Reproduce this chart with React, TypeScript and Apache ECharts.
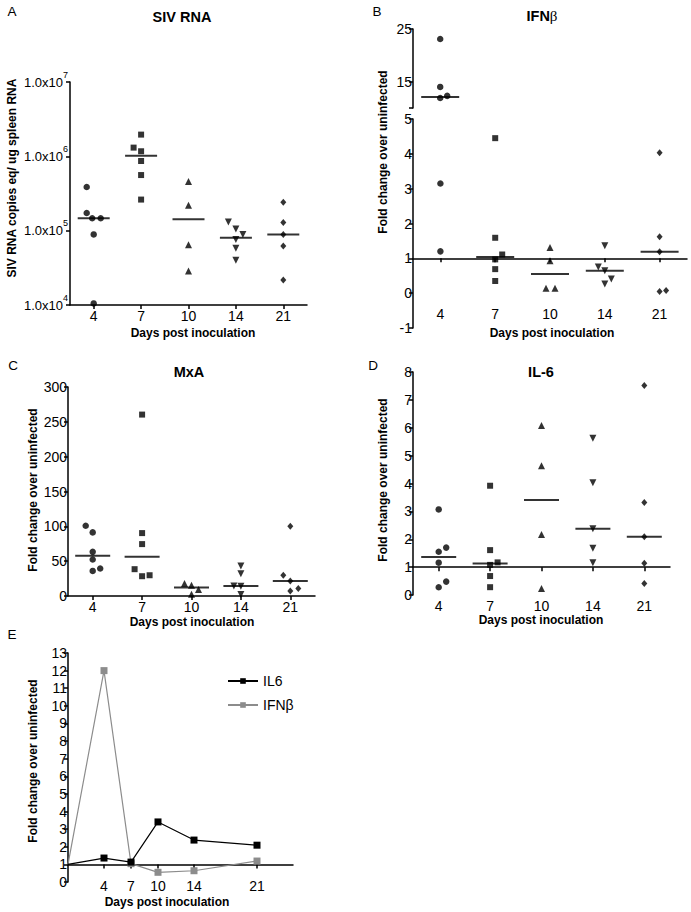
import React, { useEffect, useRef } from 'react';
import * as echarts from 'echarts';

const FONT = 'Arial, "Liberation Sans", Helvetica, sans-serif';

// ---------- data ----------
const DAYS = ['4', '7', '10', '14', '21'];

// Panel A: SIV RNA (copies eq / ug spleen RNA)
const sivD4 = [3.87e5, 1.73e5, 1.47e5, 1.47e5, 8.9e4, 1.05e4];
const sivD7 = [1.96e6, 1.31e6, 1.17e6, 8.65e5, 5.6e5, 2.62e5];
const sivD10 = [4.6e5, 2.2e5, 6.45e4, 2.86e4];
const sivD14 = [1.31e5, 1.05e5, 8.9e4, 7.6e4, 5.8e4, 4.0e4];
const sivD21 = [2.42e5, 1.29e5, 8.9e4, 6.2e4, 2.17e4];
const sivMedian = [1.47e5, 1.02e6, 1.42e5, 8.0e4, 8.9e4];

// Panel B: IFN-beta fold change
const ifnD4 = [23.1, 14.0, 12.3, 11.9, 3.15, 1.2];
const ifnD7 = [4.45, 1.59, 1.11, 0.97, 0.69, 0.35];
const ifnD10 = [1.31, 0.93, 0.14, 0.14];
const ifnD14 = [1.36, 0.75, 0.64, 0.41, 0.26];
const ifnD21 = [4.03, 1.62, 1.19, 0.05, 0.08];
const ifnMedian = [12.1, 1.04, 0.55, 0.64, 1.19];

// Panel C: MxA fold change
const mxaD4 = [100.8, 91.3, 63.4, 52.4, 39.5, 36.0];
const mxaD7 = [260.4, 90.3, 74.5, 38.5, 28.4, 29.8];
const mxaD10 = [17.8, 15.4, 9.2, 2.4];
const mxaD14 = [43.2, 32.1, 14.5, 14.0, 2.0];
const mxaD21 = [100, 29.8, 21.6, 10.7, 7.2];
const mxaMedian = [57.9, 56.5, 12.3, 14.5, 21.6];

// Panel D: IL-6 fold change
const il6D4 = [3.07, 1.7, 1.55, 1.16, 0.48, 0.28];
const il6D7 = [3.92, 1.61, 1.17, 1.08, 0.68, 0.28];
const il6D10 = [6.08, 4.64, 2.17, 0.23];
const il6D14 = [5.62, 4.03, 2.38, 1.68, 1.16];
const il6D21 = [7.52, 3.32, 2.09, 1.14, 0.41];
const il6Median = [1.36, 1.13, 3.41, 2.38, 2.09];

// Panel E: median kinetics
const kineticDays = [0, 4, 7, 10, 14, 21];
const il6Kinetics = [1, 1.36, 1.13, 3.41, 2.38, 2.09];
const ifnKinetics = [1, 12, 1.04, 0.55, 0.64, 1.19];
const eTickDays = [4, 7, 10, 14, 21];

// ---------- styling (horizontal jitter of overlapping dots, px) ----------
const sivJitter = [[-7, -7, -1.5, 7, 0, 0], [0, -7.5, 0, 0, 0, 0], [0, 0, 0, 0], [-7.5, 0, 7, 0, 0, 0], [0, 0, 0, 0, 0]];
const ifnJitter = [[0, 0, 7, 0, 0, 0], [0, 0, 7, 0, 0, 0], [0, 0, -4, 5], [0, -6.5, 0, 6.5, 0], [0, 0, 0, 0, 6.5]];
const mxaJitter = [[-7, 0, 0, 0, 7.5, 0], [0, 0, 0, -7.5, 0, 7.5], [-7, 0, 7, 0], [0, 0, -7, 0, 0], [0, -7, 0, 8, 0]];
const il6Jitter = [[0, 7.5, 0, 0, 7.5, 0], [0, 0, 7.5, 0, 0, 0], [0, 0, 0, 0], [0, 0, 0, 0, 0], [0, 0, 0, 0, 0]];

const SYMBOLS = [
  { symbol: 'circle', size: 6.5, rotate: 0 },
  { symbol: 'rect', size: 6, rotate: 0 },
  { symbol: 'triangle', size: 7, rotate: 0 },
  { symbol: 'triangle', size: 7, rotate: 180 },
  { symbol: 'diamond', size: [6, 7], rotate: 0 },
];

const AXIS_LINE = { color: '#000', width: 1.5 };
const TICK_FS = 14;

type Place = (v: number) => { g: number; v: number };

function dotPanel(groups: number[][], jitters: number[][], medians: number[], medianW: number, place: Place) {
  const out: any[] = [];
  groups.forEach((vals, ci) => {
    const sym = SYMBOLS[ci];
    const byAxis: Record<number, any[]> = {};
    vals.forEach((val, k) => {
      const p = place(val);
      (byAxis[p.g] = byAxis[p.g] || []).push({ value: [ci, p.v], symbolOffset: [jitters[ci][k] || 0, 0] });
    });
    Object.keys(byAxis).forEach((gk) => {
      const g = Number(gk);
      out.push({
        type: 'scatter', xAxisIndex: g, yAxisIndex: g, silent: true,
        symbol: sym.symbol, symbolSize: sym.size, symbolRotate: sym.rotate,
        itemStyle: { color: '#000' }, z: 3, data: byAxis[g],
      });
    });
  });
  medians.forEach((m, ci) => {
    const p = place(m);
    out.push({
      type: 'scatter', xAxisIndex: p.g, yAxisIndex: p.g, silent: true,
      symbol: 'rect', symbolSize: [medianW, 2], itemStyle: { color: '#000' }, z: 2,
      data: [[ci, p.v]],
    });
  });
  return out;
}

// offset < 0 lifts the axis line from the grid bottom up to the baseline (value 1)
function catAxis(gridIndex: number, margin: number, offset = 0, show = true) {
  return {
    type: 'category', gridIndex, data: DAYS, boundaryGap: true, show, offset, position: 'bottom',
    axisLine: { show: true, onZero: false, lineStyle: AXIS_LINE },
    axisTick: { show: true, alignWithLabel: true, length: 4, lineStyle: AXIS_LINE },
    axisLabel: { margin, color: '#000', fontSize: TICK_FS, fontFamily: FONT },
    splitLine: { show: false },
  };
}

function valAxis(gridIndex: number, min: number, max: number, interval: number, extra: any = {}) {
  return {
    type: 'value', gridIndex, min, max, interval,
    axisLine: { show: true, onZero: false, lineStyle: AXIS_LINE },
    axisTick: { show: true, length: 4, lineStyle: AXIS_LINE, ...(extra.axisTick || {}) },
    axisLabel: { margin: 1, color: '#000', fontSize: TICK_FS, fontFamily: FONT, ...(extra.axisLabel || {}) },
    splitLine: { show: false },
  };
}

function txt(text: string, x: number, y: number, font: string, rotation = 0, rich?: any) {
  return {
    type: 'text', x, y, rotation, silent: true,
    style: {
      text, font, fill: '#000', rich,
      textAlign: 'center', textVerticalAlign: 'middle', align: 'center', verticalAlign: 'middle',
    },
  };
}

function buildOption() {
  const placeA: Place = (v) => ({ g: 0, v });
  const placeB: Place = (v) => (v > 5 ? { g: 1, v } : { g: 2, v });
  const placeC: Place = (v) => ({ g: 3, v });
  const placeD: Place = (v) => ({ g: 4, v });

  const grid = [
    { left: 70, top: 82, width: 237, height: 223 },
    { left: 413, top: 29, width: 272, height: 79 },
    { left: 413, top: 119, width: 274, height: 209 },
    { left: 68, top: 387, width: 247, height: 209 },
    { left: 413, top: 372, width: 257, height: 223 },
    { left: 68, top: 653, width: 225, height: 229 },
  ].map((g) => ({ ...g, outerBoundsMode: 'none', containLabel: false }));

  const xAxis: any[] = [
    catAxis(0, 4),
    catAxis(1, 4, 0, false),
    catAxis(2, 49, (-209 / 6) * 2),
    catAxis(3, 4),
    catAxis(4, 32, -223 / 8),
    {
      type: 'value', gridIndex: 5, min: 0, max: 25, position: 'bottom', offset: -229 / 13,
      axisLine: { show: true, onZero: false, lineStyle: AXIS_LINE },
      axisTick: { show: true, length: 4, lineStyle: AXIS_LINE, customValues: eTickDays },
      axisLabel: { margin: 15, color: '#000', fontSize: TICK_FS, fontFamily: FONT, customValues: eTickDays },
      splitLine: { show: false },
    },
  ];

  const yAxis: any[] = [
    {
      type: 'log', gridIndex: 0, logBase: 10, min: 1e4, max: 1e7,
      axisLine: { show: true, onZero: false, lineStyle: AXIS_LINE },
      axisTick: { show: true, length: 4, lineStyle: AXIS_LINE },
      minorTick: { show: false },
      axisLabel: {
        margin: 2, color: '#000', fontFamily: FONT,
        formatter: (v: number) => `{b|1.0x10}{s|${Math.round(Math.log10(v))}}`,
        rich: {
          b: { fontSize: 13, fontFamily: FONT, color: '#000', lineHeight: 24 },
          s: { fontSize: 9, fontFamily: FONT, color: '#000', lineHeight: 9, verticalAlign: 'top' },
        },
      },
      splitLine: { show: false },
    },
    valAxis(1, 10, 25, 5, { axisLabel: { customValues: [15, 25] }, axisTick: { customValues: [10, 15, 25] } }),
    valAxis(2, -1, 5, 1),
    valAxis(3, 0, 300, 50),
    valAxis(4, 0, 8, 1),
    valAxis(5, 0, 13, 1),
  ];

  const series: any[] = [
    ...dotPanel([sivD4, sivD7, sivD10, sivD14, sivD21], sivJitter, sivMedian, 32, placeA),
    ...dotPanel([ifnD4, ifnD7, ifnD10, ifnD14, ifnD21], ifnJitter, ifnMedian, 38, placeB),
    ...dotPanel([mxaD4, mxaD7, mxaD10, mxaD14, mxaD21], mxaJitter, mxaMedian, 35, placeC),
    ...dotPanel([il6D4, il6D7, il6D10, il6D14, il6D21], il6Jitter, il6Median, 35, placeD),
  ];

  const kin = (vals: number[]) =>
    kineticDays.map((d, i) => (d === 0 ? { value: [d, vals[i]], symbol: 'none' } : { value: [d, vals[i]] }));

  series.push(
    {
      name: 'IL6', type: 'line', xAxisIndex: 5, yAxisIndex: 5, silent: true,
      symbol: 'rect', symbolSize: 7, showSymbol: true,
      lineStyle: { color: '#000', width: 1.2 }, itemStyle: { color: '#000' }, z: 4,
      data: kin(il6Kinetics),
    },
    {
      name: 'IFNβ', type: 'line', xAxisIndex: 5, yAxisIndex: 5, silent: true,
      symbol: 'rect', symbolSize: 7, showSymbol: true,
      lineStyle: { color: '#8c8c8c', width: 1.2 }, itemStyle: { color: '#8c8c8c' }, z: 3,
      data: kin(ifnKinetics),
    },
  );

  const bold12 = `bold 12px ${FONT}`;
  const bold14 = `bold 14.5px ${FONT}`;
  const letter = `13.5px ${FONT}`;

  const graphic = [
    txt('A', 12, 11, letter),
    txt('B', 377, 11, letter),
    txt('C', 13, 365, letter),
    txt('D', 373, 365, letter),
    txt('E', 12, 634, letter),
    txt('SIV RNA', 182, 17, bold14),
    txt('{a|IFN}{b|β}', 542, 16, bold14, 0, {
      a: { font: bold14, fill: '#000', color: '#000' },
      b: { font: `15px "Liberation Serif", "Times New Roman", serif`, fill: '#000', color: '#000' },
    }),
    txt('MxA', 189, 372, bold14),
    txt('IL-6', 541, 372, bold14),
    txt('SIV RNA copies eq/ ug spleen RNA', 12, 178, bold12, Math.PI / 2),
    txt('Fold change over uninfected', 383, 152, bold12, Math.PI / 2),
    txt('Fold change over uninfected', 33, 490, bold12, Math.PI / 2),
    txt('Fold change over uninfected', 383, 480, bold12, Math.PI / 2),
    txt('Fold change over uninfected', 33, 761, bold12, Math.PI / 2),
    txt('Days post inoculation', 193, 333, bold12),
    txt('Days post inoculation', 552, 333, bold12),
    txt('Days post inoculation', 192, 622, bold12),
    txt('Days post inoculation', 541, 620, bold12),
    txt('Days post inoculation', 167, 902, bold12),
  ];

  return {
    animation: false,
    backgroundColor: '#fff',
    textStyle: { fontFamily: FONT },
    grid,
    xAxis,
    yAxis,
    series,
    legend: {
      data: ['IL6', 'IFNβ'],
      orient: 'vertical', left: 222, top: 669,
      itemWidth: 30, itemHeight: 7, itemGap: 10,
      textStyle: { fontSize: 14, color: '#000', fontFamily: FONT },
      selectedMode: false,
    },
    graphic,
  };
}

export default function App() {
  const ref = useRef<HTMLDivElement>(null);
  useEffect(() => {
    if (!ref.current) return;
    const chart = echarts.init(ref.current, null, { renderer: 'svg' });
    chart.setOption(buildOption() as any);
    return () => chart.dispose();
  }, []);
  return (
    <div
      ref={ref}
      style={{ position: 'absolute', left: 0, top: 0, width: 691, height: 912, background: '#fff' }}
    />
  );
}
